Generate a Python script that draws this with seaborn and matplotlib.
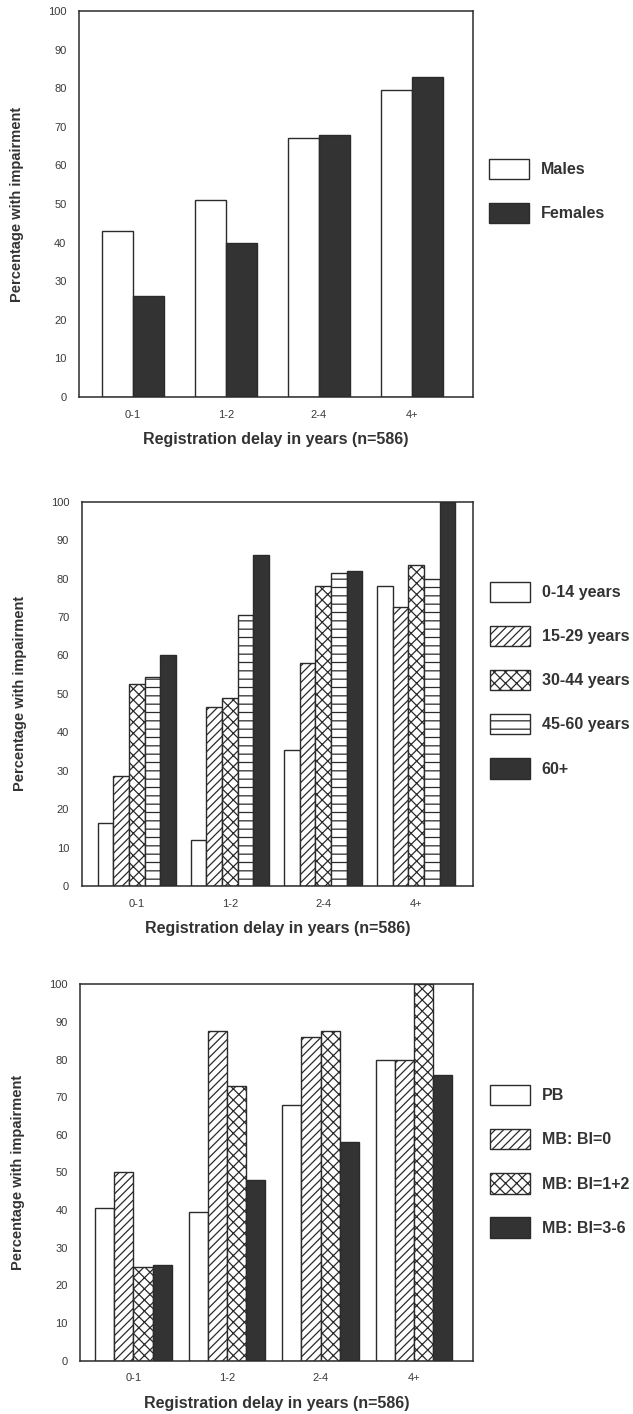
import numpy as np
import pandas as pd
import matplotlib
matplotlib.use("Agg")
import matplotlib.pyplot as plt
from matplotlib.ticker import MultipleLocator
import seaborn as sns

# Data (percentage with impairment)
delay_groups = ["0-1", "1-2", "2-4", "4+"]

sex_labels = ["Males", "Females"]
males = [43, 51, 67, 79.5]
females = [26.3, 40, 68, 83]

age_labels = ["0-14 years", "15-29 years", "30-44 years", "45-60 years", "60+"]
age_0_14 = [16.5, 12, 35.5, 78]
age_15_29 = [28.5, 46.5, 58, 72.5]
age_30_44 = [52.5, 49, 78, 83.5]
age_45_60 = [54.5, 70.5, 81.5, 80]
age_60_plus = [60, 86, 82, 100]

class_labels = ["PB", "MB: BI=0", "MB: BI=1+2", "MB: BI=3-6"]
pb = [40.5, 39.5, 68, 80]
mb_bi0 = [50, 87.5, 86, 80]
mb_bi12 = [25, 73, 87.5, 100]
mb_bi36 = [25.5, 48, 58, 76]

xlabel = "Registration delay in years (n=586)"
ylabel = "Percentage with impairment"

sns.set_style("white")
plt.rcParams["font.family"] = ["Liberation Sans", "DejaVu Sans"]
plt.rcParams["hatch.linewidth"] = 0.9

ink = "#2b2b2b"
dark = "#333333"


def long_table(labels, series):
    rows = []
    for lab, vals in zip(labels, series):
        for g, v in zip(delay_groups, vals):
            rows.append({"delay": g, "group": lab, "pct": v})
    return pd.DataFrame(rows)


def draw_panel(ax, labels, series, fills, hatches, width, xlim, leg_anchor):
    df = long_table(labels, series)
    sns.barplot(data=df, x="delay", y="pct", hue="group", order=delay_groups,
                hue_order=labels, palette=fills, width=width, saturation=1,
                edgecolor=ink, linewidth=1.0, legend=False, ax=ax)
    for cont, h in zip(ax.containers, hatches):
        for bar in cont:
            bar.set_hatch(h)
            bar.set_edgecolor(ink)

    ax.set_ylim(0, 100)
    ax.set_xlim(*xlim)
    ax.yaxis.set_major_locator(MultipleLocator(10))
    ax.yaxis.set_minor_locator(MultipleLocator(5))
    ax.tick_params(axis="y", which="major", direction="in", length=4.5, width=1,
                   color=ink, labelsize=8, labelcolor="#3a3a3a", pad=9)
    ax.tick_params(axis="y", which="minor", direction="in", length=3, width=1, color=ink)
    ax.tick_params(axis="x", length=0, labelsize=8, labelcolor="#3a3a3a", pad=9)
    for sp in ax.spines.values():
        sp.set_visible(True)
        sp.set_color(ink)
        sp.set_linewidth(1.1)

    ax.set_xlabel(xlabel, fontsize=11.5, fontweight="bold", color=dark, labelpad=9)
    ax.set_ylabel(ylabel, fontsize=10.5, fontweight="bold", color=dark)
    ax.yaxis.set_label_coords(-0.14, 0.5)

    ax.legend(handles=ax.containers, labels=labels, loc="upper left",
              bbox_to_anchor=leg_anchor, frameon=False, borderpad=0,
              borderaxespad=0, handlelength=2.5, handleheight=1.57,
              labelspacing=1.5, handletextpad=0.75,
              prop={"weight": "bold", "size": 11.5})
    for t in ax.get_legend().get_texts():
        t.set_color(dark)


fig = plt.figure(figsize=(6.33, 14.14), dpi=100)

ax1 = fig.add_axes([0.1248, 0.7192, 0.6224, 0.2730])
draw_panel(ax1, sex_labels, [males, females], ["white", dark], ["", ""],
           0.67, (-0.58, 3.66), (1.04, 0.617))

ax2 = fig.add_axes([0.1291, 0.3734, 0.6182, 0.2718])
draw_panel(ax2, age_labels, [age_0_14, age_15_29, age_30_44, age_45_60, age_60_plus],
           ["white", "white", "white", "white", dark], ["", "////", "xxx", "--", ""],
           0.84, (-0.59, 3.61), (1.043, 0.792))

ax3 = fig.add_axes([0.1264, 0.0377, 0.6209, 0.2662])
draw_panel(ax3, class_labels, [pb, mb_bi0, mb_bi12, mb_bi36],
           ["white", "white", "white", dark], ["", "////", "xxx", ""],
           0.82, (-0.57, 3.63), (1.043, 0.7325))

fig.savefig("out.png", dpi=100, facecolor="white")
